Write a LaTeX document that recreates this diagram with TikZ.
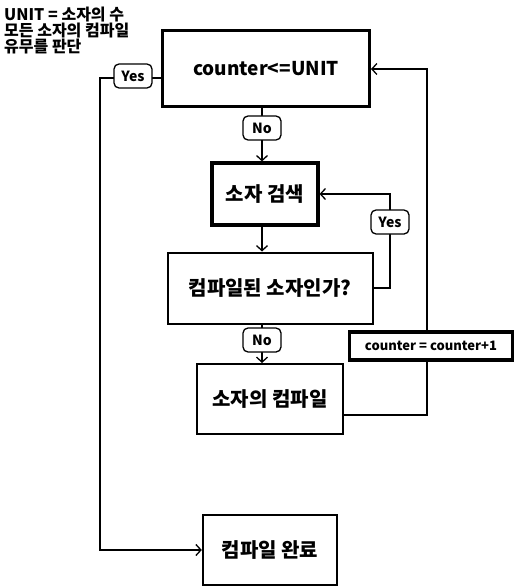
\documentclass[tikz,border=0pt]{standalone}
\usepackage{fontspec}
\setmainfont{Noto Sans CJK KR}
\usetikzlibrary{arrows,arrows.meta,positioning}
\pgfdeclarelayer{background}
\pgfsetlayers{background,main}
\tikzset{
  stepbox/.style={draw,fill=white,inner sep=2pt,font=\bfseries\fontsize{20}{22}\selectfont},
  tagbox/.style={draw,fill=white,rounded corners=5pt,line width=1.3pt,inner sep=2pt,
    minimum width=38pt,minimum height=24pt,font=\bfseries\fontsize{14}{15}\selectfont},
  flow/.style={line width=1.3pt,>={Straight Barb[length=5pt,width=11pt,line width=1.3pt]}}
}
\newcommand{\Step}[5]% pos, name, width, height, style
{\node[stepbox,minimum width=#3,minimum height=#4,#5] (#2) at (#1)}
\newcommand{\Tag}[3]% pos, name, text
{\node[tagbox] (#2) at (#1) {#3};}
\newcommand{\Arrow}[3]%
{ \begin{pgfonlayer}{background}
    \draw[->,#3] (#1) -- (#2);
  \end{pgfonlayer}}
\newcommand{\Route}[2]% path, style
{ \begin{pgfonlayer}{background}
    \draw[->,#2] #1;
  \end{pgfonlayer}}

\begin{document}
\begin{tikzpicture}[x=1pt,y=-1pt]
  \useasboundingbox (0,0) rectangle (515,588);
  % boxes
  \Step{266,69}{top}{207pt}{76pt}{line width=3pt,font=\bfseries\fontsize{19}{21}\selectfont}{counter<=UNIT};
  \Step{265,194}{srch}{106pt}{62pt}{line width=3.2pt}{소자 검색};
  \Step{270,288}{chk}{205pt}{71pt}{line width=2pt}{컴파일된 소자인가?};
  \Step{270,399}{cmp}{146pt}{70pt}{line width=2pt}{소자의 컴파일};
  \Step{270,550}{done}{134pt}{70pt}{line width=2.4pt}{컴파일 완료};
  \Step{431,346}{cnt}{163pt}{28pt}{line width=3.5pt,font=\bfseries\fontsize{13}{14}\selectfont}{counter = counter+1};
  \node[anchor=north west,align=left,inner sep=0pt,font=\bfseries\fontsize{16}{16}\selectfont] (memo) at (4,7)
    {UNIT = 소자의 수\\모든 소자의 컴파일\\유무를 판단};
  % labels
  \Tag{133,76}{yes1}{Yes}
  \Tag{262,128}{no1}{No}
  \Tag{390,222}{yes2}{Yes}
  \Tag{262,340}{no2}{No}
  % corners
  \coordinate (lft) at (100,78);
  \coordinate (ret) at (427,415);
  % connectors
  \Arrow{no1 |- top.south}{no1 |- srch.north}{flow}
  \Arrow{no1 |- srch.south}{no1 |- chk.north}{flow}
  \Arrow{no2 |- chk.south}{no2 |- cmp.north}{flow}
  \Route{(chk.east) -| (yes2.center) |- (srch.east)}{flow}
  \Route{(cmp.east |- ret) -- (ret) |- (top.east)}{flow}
  \Route{(top.west |- lft) -- (lft) |- (done.west)}{flow}
\end{tikzpicture}
\end{document}
